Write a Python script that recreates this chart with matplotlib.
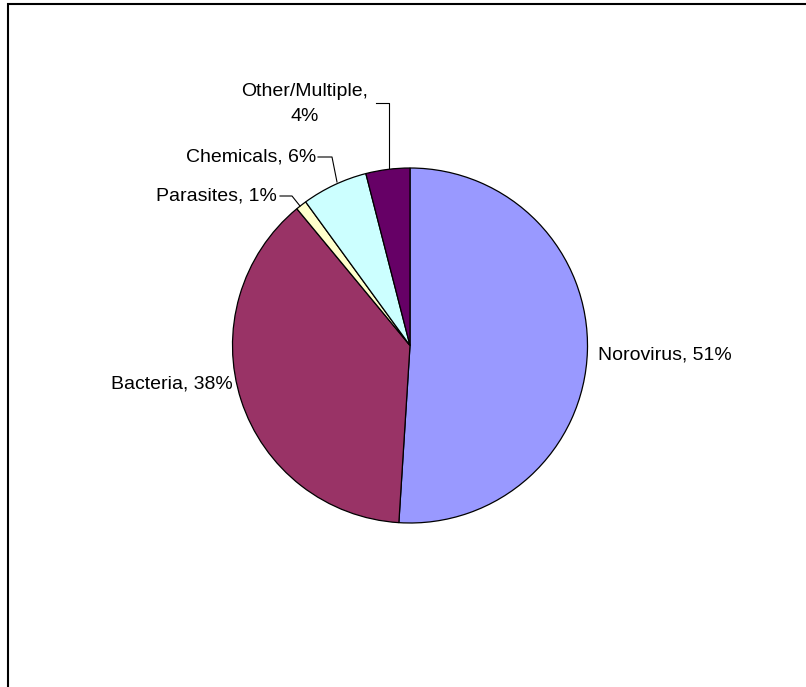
import numpy as np
import matplotlib.pyplot as plt
from matplotlib.patches import Rectangle

plt.rcParams['font.family'] = ['Liberation Sans', 'DejaVu Sans']

# outbreak causes, clockwise from 12 o'clock
causes = ['Norovirus', 'Bacteria', 'Parasites', 'Chemicals', 'Other/Multiple']
shares = [51, 38, 1, 6, 4]
colors = ['#9999FF', '#993366', '#FFFFCC', '#CCFFFF', '#660066']

W, H = 806, 687
fig = plt.figure(figsize=(W / 100, H / 100), dpi=100)
ax = fig.add_axes([0, 0, 1, 1])

cx, cy, r = 410, H - 345.5, 177.5
ax.pie(shares, colors=colors, startangle=90, counterclock=False,
       center=(cx, cy), radius=r,
       wedgeprops=dict(edgecolor='black', linewidth=0.9))

# pie() sets its own limits, so fix the pixel-sized frame afterwards
ax.set_xlim(0, W)
ax.set_ylim(0, H)
ax.set_aspect('equal')
ax.axis('off')

fs = 14
lbl = [f'{c}, {s}%' for c, s in zip(causes, shares)]

ax.text(598, H - 355, lbl[0], fontsize=fs, ha='left', va='center')
ax.text(233, H - 384, lbl[1], fontsize=fs, ha='right', va='center')
ax.text(277, H - 196, lbl[2], fontsize=fs, ha='right', va='center')
ax.text(316, H - 157, lbl[3], fontsize=fs, ha='right', va='center')
ax.text(305, H - 104, f'{causes[4]},\n{shares[4]}%', fontsize=fs,
        ha='center', va='center', linespacing=1.6)

# leader lines for the small slices
leaders = [
    ([280, 292, 300], [196, 196, 206]),
    ([318, 332, 337], [157, 157, 182]),
    ([376, 389, 389], [103, 103, 168]),
]
for xs, ys in leaders:
    ax.plot(xs, [H - y for y in ys], color='black', lw=0.8)

# chart border
fig.add_artist(Rectangle((8 / W, -0.1), 1.2, (H - 3.5) / H + 0.1,
                         transform=fig.transFigure, fill=False,
                         edgecolor='black', lw=1.5))

fig.savefig('out.png', dpi=100)
